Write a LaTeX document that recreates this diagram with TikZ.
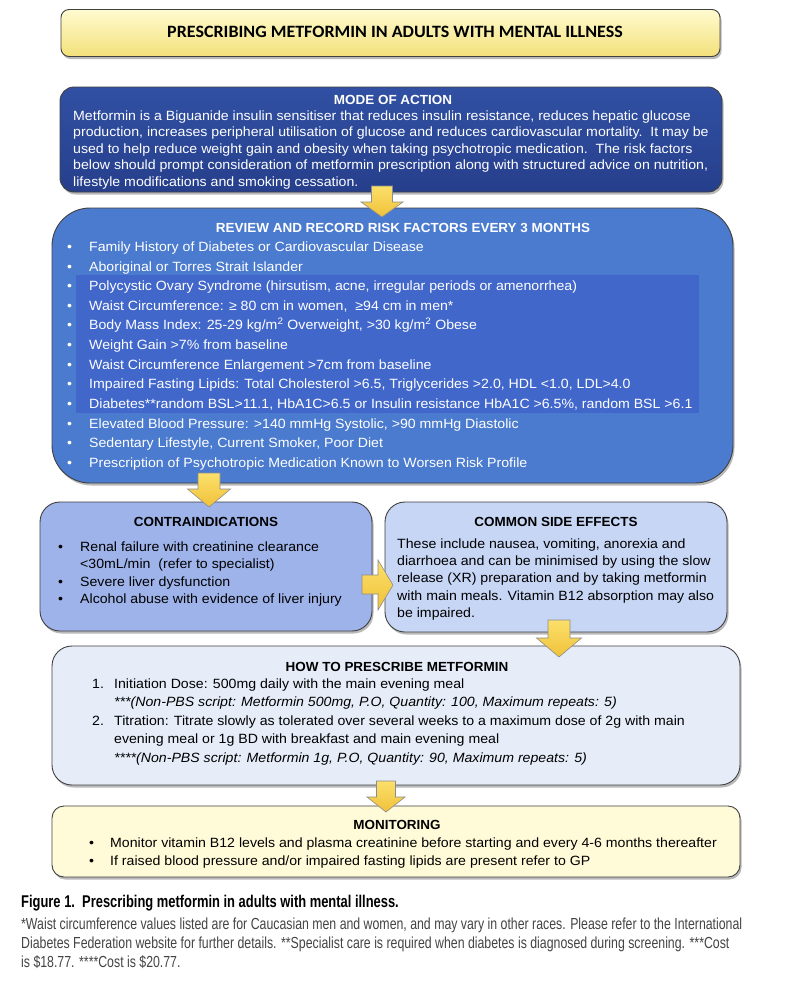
\documentclass[tikz,border=0pt]{standalone}
\usepackage{fontspec}
\setmainfont[FakeStretch=1.055]{Liberation Sans}
\newfontfamily\hdrfont[FakeStretch=1.02]{Liberation Sans}
\newfontfamily\titlefont[FakeStretch=1.04]{Carlito}
\newfontfamily\capfont[FakeStretch=0.77]{Liberation Sans}
\newfontfamily\capbfont[FakeStretch=0.76]{Liberation Sans}
\usetikzlibrary{shadows}
\definecolor{titleA}{HTML}{FFFBD0}
\definecolor{titleB}{HTML}{F3E07A}
\definecolor{moaA}{HTML}{3150A3}
\definecolor{moaB}{HTML}{263F8C}
\definecolor{riskC}{HTML}{4B7BCE}
\definecolor{riskIn}{HTML}{4167CB}
\definecolor{contraC}{HTML}{9EB3EA}
\definecolor{sideC}{HTML}{C7D6F5}
\definecolor{howC}{HTML}{E6EDF9}
\definecolor{monC}{HTML}{FFFBD8}
\definecolor{arrA}{HTML}{FBE06A}
\definecolor{arrB}{HTML}{F0C13A}
\definecolor{capgray}{HTML}{444444}
\newcommand\blt{\makebox[22pt][l]{\textbullet}}
\newcommand\num[1]{\makebox[22pt][l]{#1.}}
% down arrow: x, ytop, yhead, ytip, half shaft, half head
\newcommand\yarrowdown[6]{%
  \path[blockarrow] (#1-#5,#2) -- (#1+#5,#2) -- (#1+#5,#3) -- (#1+#6,#3) -- (#1,#4) -- (#1-#6,#3) -- (#1-#5,#3) -- cycle;}
\begin{document}
\begin{tikzpicture}[x=1pt,y=-1pt,
  box/.style={draw=black!75, line width=0.9pt, drop shadow={shadow xshift=1.5pt, shadow yshift=-2.5pt, opacity=0.55}},
  blockarrow/.style={draw=black!45, line width=0.6pt, top color=arrA, bottom color=arrB},
  txt/.style={inner sep=0pt, align=left},
  hdr/.style={inner sep=0pt, font=\hdrfont\fontsize{13.2}{15}\selectfont\bfseries},
  body/.style={txt, anchor=north west, font=\fontsize{13.4}{#1}\selectfont},
]
\useasboundingbox[fill=white] (0,0) rectangle (812,989);

% ---------- boxes ----------
\node[box, rounded corners=8pt, top color=titleA, bottom color=titleB, minimum width=659pt, minimum height=47pt, inner sep=0pt] (title) at (390.5,33) {};
\node[inner sep=0pt, font=\titlefont\fontsize{17.3}{19}\selectfont\bfseries] (titletext) at (395,32) {PRESCRIBING METFORMIN IN ADULTS WITH MENTAL ILLNESS};

\node[box, rounded corners=14pt, top color=moaA, bottom color=moaB, minimum width=662pt, minimum height=105pt, inner sep=0pt] (moa) at (391,139.5) {};

\node[box, rounded corners=38pt, fill=riskC, minimum width=681pt, minimum height=275pt, inner sep=0pt] (risk) at (392.5,345.5) {};
\fill[riskIn] (76,275) rectangle (699,413);

\node[box, rounded corners=20pt, fill=contraC, minimum width=332pt, minimum height=129pt, inner sep=0pt] (contra) at (206,566.5) {};
\node[box, rounded corners=20pt, fill=sideC, minimum width=342pt, minimum height=130pt, inner sep=0pt] (side) at (556,567) {};
\node[box, rounded corners=20pt, fill=howC, minimum width=688pt, minimum height=139pt, inner sep=0pt] (how) at (396,715.5) {};
\node[box, rounded corners=12pt, fill=monC, minimum width=688pt, minimum height=71pt, inner sep=0pt] (mon) at (396,841.5) {};

% ---------- texts ----------
\node[hdr, text=white] (moah) at (393,100) {MODE OF ACTION};
\node[body=16.5, text=white] (moat) at (73,110.5) {%
Metformin is a Biguanide insulin sensitiser that reduces insulin resistance, reduces hepatic glucose\\
production, increases peripheral utilisation of glucose and reduces cardiovascular mortality.\ \ It may be\\
used to help reduce weight gain and obesity when taking psychotropic medication.\ \ The risk factors\\
below should prompt consideration of metformin prescription along with structured advice on nutrition,\\
lifestyle modifications and smoking cessation.};

\node[hdr, text=white] (riskh) at (403,228) {REVIEW AND RECORD RISK FACTORS EVERY 3 MONTHS};
\node[body=19.64, text=white] (riskt) at (67,241.5) {%
\blt Family History of Diabetes or Cardiovascular Disease\\
\blt Aboriginal or Torres Strait Islander\\
\blt Polycystic Ovary Syndrome (hirsutism, acne, irregular periods or amenorrhea)\\
\blt Waist Circumference: ≥ 80 cm in women,\ \ ≥94 cm in men*\\
\blt Body Mass Index: 25-29 kg/m\textsuperscript{2} Overweight, >30 kg/m\textsuperscript{2} Obese\\
\blt Weight Gain >7\% from baseline\\
\blt Waist Circumference Enlargement >7cm from baseline\\
\blt Impaired Fasting Lipids: Total Cholesterol >6.5, Triglycerides >2.0, HDL <1.0, LDL>4.0\\
\blt Diabetes**random BSL>11.1, HbA1C>6.5 or Insulin resistance HbA1C >6.5\%, random BSL >6.1\\
\blt Elevated Blood Pressure: >140 mmHg Systolic, >90 mmHg Diastolic\\
\blt Sedentary Lifestyle, Current Smoker, Poor Diet\\
\blt Prescription of Psychotropic Medication Known to Worsen Risk Profile};

\node[hdr] (contrah) at (206,522) {CONTRAINDICATIONS};
\node[body=17.4] (contrat) at (58,541.5) {%
\blt Renal failure with creatinine clearance\\
\hspace*{22pt}<30mL/min\ \ (refer to specialist)\\
\blt Severe liver dysfunction\\
\blt Alcohol abuse with evidence of liver injury};

\node[hdr] (sideh) at (556,522) {COMMON SIDE EFFECTS};
\node[body=17.25] (sidet) at (397,538.5) {%
These include nausea, vomiting, anorexia and\\
diarrhoea and can be minimised by using the slow\\
release (XR) preparation and by taking metformin\\
with main meals. Vitamin B12 absorption may also\\
be impaired.};

\node[hdr] (howh) at (397,667) {HOW TO PRESCRIBE METFORMIN};
\node[body=18.5] (howt) at (92,678.5) {%
\num{1}Initiation Dose: 500mg daily with the main evening meal\\
\hspace*{22pt}\textit{***(Non-PBS script: Metformin 500mg, P.O, Quantity: 100, Maximum repeats: 5)}\\
\num{2}Titration: Titrate slowly as tolerated over several weeks to a maximum dose of 2g with main\\
\hspace*{22pt}evening meal or 1g BD with breakfast and main evening meal\\
\hspace*{22pt}\textit{****(Non-PBS script: Metformin 1g, P.O, Quantity: 90, Maximum repeats: 5)}};

\node[hdr] (monh) at (397,825) {MONITORING};
\node[body=18] (mont) at (89,837.5) {%
\makebox[21pt][l]{\textbullet}Monitor vitamin B12 levels and plasma creatinine before starting and every 4-6 months thereafter\\
\makebox[21pt][l]{\textbullet}If raised blood pressure and/or impaired fasting lipids are present refer to GP};

% ---------- caption ----------
\node[txt, anchor=north west, font=\capbfont\fontsize{17}{19}\selectfont\bfseries] (capt) at (21,895) {Figure 1.\ \ Prescribing metformin in adults with mental illness.};
\node[txt, anchor=north west, text=capgray, font=\capfont\fontsize{16}{19}\selectfont] (capb) at (21,917.5) {%
*Waist circumference values listed are for Caucasian men and women, and may vary in other races. Please refer to the International\\
Diabetes Federation website for further details. **Specialist care is required when diabetes is diagnosed during screening. ***Cost\\
is \$18.77. ****Cost is \$20.77.};

% ---------- block arrows ----------
\yarrowdown{382}{186}{202}{217}{10.5}{21}
\yarrowdown{209}{473}{489}{507}{11}{21.5}
\path[blockarrow] (362,575) -- (378,575) -- (378,560) -- (393,585) -- (378,610) -- (378,594) -- (362,594) -- cycle;
\yarrowdown{559}{620}{638}{657}{11}{22.5}
\yarrowdown{386}{781}{797}{812}{9.5}{19}
\end{tikzpicture}
\end{document}
